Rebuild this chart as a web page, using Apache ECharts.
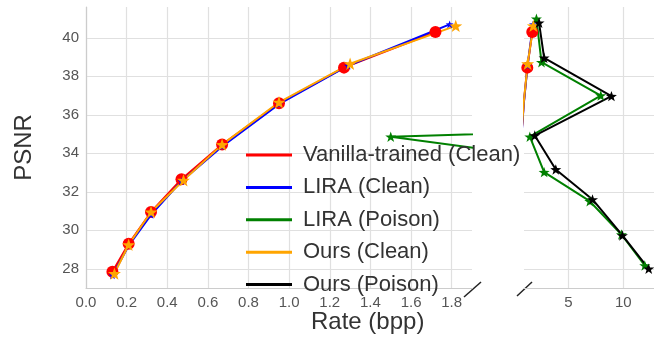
<!DOCTYPE html>
<html>
<head>
<meta charset="utf-8">
<script src="https://cdn.jsdelivr.net/npm/echarts@6/dist/echarts.min.js"></script>
<style>
  html, body { margin: 0; padding: 0; background: #fff; }
  #chart { width: 654px; height: 341px; }
</style>
</head>
<body>
<div id="chart"></div>
<script>
// rate (bpp) / PSNR
var rateVanilla = [0.13, 0.21, 0.32, 0.47, 0.67, 0.95, 1.27, 1.72];
var psnrVanilla = [27.85, 29.3, 30.95, 32.65, 34.45, 36.6, 38.45, 40.3];
var rateLiraClean = [0.13, 0.21, 0.32, 0.47, 0.67, 0.95, 1.29, 1.79];
var psnrLiraClean = [27.65, 29.2, 30.8, 32.55, 34.35, 36.55, 38.55, 40.7];
var rateLiraPoison = [11.95, 9.83, 6.95, 2.8, 1.5, 7.95, 2.56, 2.1];
var psnrLiraPoison = [28.17, 29.78, 31.51, 33.02, 34.86, 37.0, 38.73, 40.99];
var rateOursClean = [0.14, 0.21, 0.32, 0.48, 0.67, 0.95, 1.3, 1.82];
var psnrOursClean = [27.75, 29.25, 30.95, 32.6, 34.45, 36.65, 38.65, 40.62];
var rateOursPoison = [12.31, 9.92, 7.2, 3.86, 1.95, 8.92, 2.8, 2.34];
var psnrOursPoison = [28.0, 29.73, 31.6, 33.16, 34.92, 36.97, 38.96, 40.78];

var leftTicks = [0, 0.2, 0.4, 0.6, 0.8, 1.0, 1.2, 1.4, 1.6, 1.8];
var rightTicks = [5, 10];
var psnrTicks = [28, 30, 32, 34, 36, 38, 40];

var FONT = 'Liberation Sans, Arial, sans-serif';
var star = 'path://M0,-10L2.35,-3.24L9.51,-3.09L3.8,1.24L5.88,8.09L0,4L-5.88,8.09L-3.8,1.24L-9.51,-3.09L-2.35,-3.24Z';

var lines = [
  { name: 'Vanilla-trained (Clean)', color: 'red', rate: rateVanilla, psnr: psnrVanilla, symbol: 'circle', size: 12 },
  { name: 'LIRA (Clean)', color: 'blue', rate: rateLiraClean, psnr: psnrLiraClean, symbol: star, size: 8 },
  { name: 'LIRA (Poison)', color: 'green', rate: rateLiraPoison, psnr: psnrLiraPoison, symbol: star, size: 11 },
  { name: 'Ours (Clean)', color: 'orange', rate: rateOursClean, psnr: psnrOursClean, symbol: star, size: 13 },
  { name: 'Ours (Poison)', color: 'black', rate: rateOursPoison, psnr: psnrOursPoison, symbol: star, size: 11 }
];

// same data in both panels, each panel clips to its own x range
var series = [];
[0, 1].forEach(function (g) {
  lines.forEach(function (l) {
    series.push({
      name: l.name,
      type: 'line',
      xAxisIndex: g,
      yAxisIndex: g,
      data: l.rate.map(function (r, i) { return [r, l.psnr[i]]; }),
      color: l.color,
      symbol: l.symbol,
      symbolSize: l.size,
      symbolKeepAspect: true,
      showAllSymbol: true,
      clip: true,
      lineStyle: { width: 2, color: l.color },
      itemStyle: { color: l.color },
      emphasis: { disabled: true },
      animation: false
    });
  });
});

var gridLine = { show: true, lineStyle: { color: '#e0e0e0', width: 1.2 } };
var tickLabel = { color: '#555', fontSize: 15, fontFamily: FONT, margin: 7 };

var chart = echarts.init(document.getElementById('chart'));
chart.setOption({
  animation: false,
  grid: [
    { left: 86, top: 7, width: 386, height: 281 },
    { left: 524, top: 7, width: 130, height: 281 }
  ],
  xAxis: [{
    type: 'value', gridIndex: 0, min: 0, max: 1.9,
    axisLine: { show: true, lineStyle: { color: '#ccc', width: 1.2 } },
    axisTick: { show: false, customValues: leftTicks },
    axisLabel: Object.assign({ customValues: leftTicks, formatter: function (v) { return v.toFixed(1); } }, tickLabel),
    splitLine: gridLine
  }, {
    type: 'value', gridIndex: 1, min: 0.97, max: 12.79,
    axisLine: { show: true, lineStyle: { color: '#ccc', width: 1.2 } },
    axisTick: { show: false, customValues: rightTicks },
    axisLabel: Object.assign({ customValues: rightTicks }, tickLabel),
    splitLine: gridLine
  }],
  yAxis: [{
    type: 'value', gridIndex: 0, min: 27, max: 41.6,
    name: 'PSNR', nameLocation: 'middle', nameGap: 50,
    nameTextStyle: { color: '#333', fontSize: 24, fontFamily: FONT },
    axisLine: { show: true, lineStyle: { color: '#ccc', width: 1.2 } },
    axisTick: { show: false, customValues: psnrTicks },
    axisLabel: Object.assign({ customValues: psnrTicks }, tickLabel),
    splitLine: gridLine
  }, {
    type: 'value', gridIndex: 1, min: 27, max: 41.6,
    axisLine: { show: false },
    axisTick: { show: false, customValues: psnrTicks },
    axisLabel: { show: false, customValues: psnrTicks },
    splitLine: gridLine
  }],
  legend: {
    orient: 'vertical',
    left: 241,
    top: 138,
    icon: 'rect',
    itemWidth: 46,
    itemHeight: 3,
    itemGap: 8.4,
    selectedMode: false,
    data: lines.map(function (l) { return l.name; }),
    textStyle: { color: '#333', fontSize: 22, fontFamily: FONT, lineHeight: 24, padding: [0, 0, 0, 6] }
  },
  graphic: [
    { type: 'text', left: 311, top: 310, style: { text: 'Rate (bpp)', fill: '#333', font: '24px ' + FONT } },
    // broken-axis marks
    { type: 'line', shape: { x1: 464, y1: 297, x2: 481, y2: 282 }, style: { stroke: '#222', lineWidth: 1.5 } },
    { type: 'line', shape: { x1: 517, y1: 296, x2: 532, y2: 282 }, style: { stroke: '#222', lineWidth: 1.5 } }
  ],
  series: series
});
</script>
</body>
</html>
